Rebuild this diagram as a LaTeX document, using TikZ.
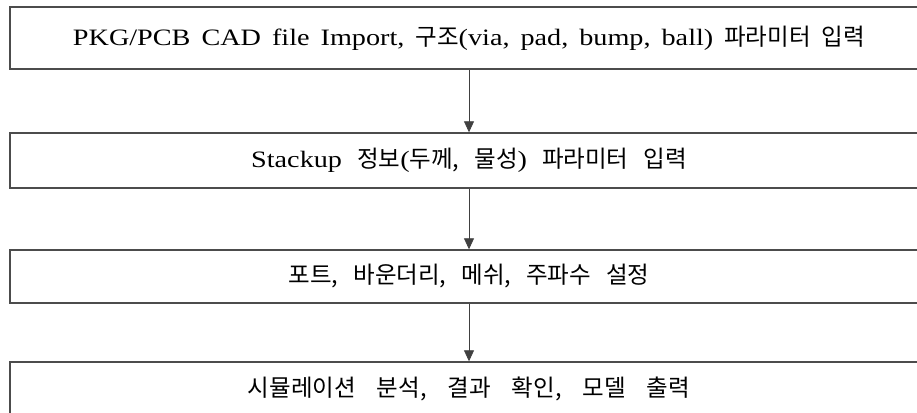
\documentclass[tikz,border=0pt]{standalone}
\usepackage{fontspec}
\setmainfont[FakeStretch=1.2]{Liberation Serif}
\newfontfamily\krfont{Noto Sans CJK KR}
\newcommand{\kr}[1]{{\krfont #1}}
\newcommand{\boxfont}{\fontsize{23.5}{28}\selectfont\spaceskip 15pt\relax}
\usetikzlibrary{arrows.meta}

\begin{document}
\begin{tikzpicture}[x=1pt, y=-1pt,
	stepbox/.style={shape=rectangle, draw=black!70, line width=1.4pt, minimum width=918pt, inner sep=0pt, font=\boxfont},
	flow/.style={draw=black!75, line width=0.8pt, -{Triangle[length=11pt, width=10pt]}}]
	\useasboundingbox (0, 0) rectangle (917, 412);
	\clip (0, 0) rectangle (917, 412);
	% Boxes:
	\node[stepbox, minimum height=62pt, font=\boxfont\spaceskip 11pt\relax] (import) at (469, 38) {PKG/PCB CAD file Import, \kr{구조}(via, pad, bump, ball) \kr{파라미터 입력}};
	\node[stepbox, minimum height=55pt] (stackup) at (469, 160.5) {Stackup \kr{정보}(\kr{두께, 물성}) \kr{파라미터 입력}};
	\node[stepbox, minimum height=53pt] (setup) at (469, 276.5) {\kr{포트, 바운더리, 메쉬, 주파수 설정}};
	\node[stepbox, minimum height=54pt, font=\boxfont\spaceskip 21pt\relax] (result) at (469, 389) {\kr{시뮬레이션 분석, 결과 확인, 모델 출력}};
	% Arrows:
	\draw[flow] (import) -- (stackup);
	\draw[flow] (stackup) -- (setup);
	\draw[flow] (setup) -- (result);
\end{tikzpicture}
\end{document}
